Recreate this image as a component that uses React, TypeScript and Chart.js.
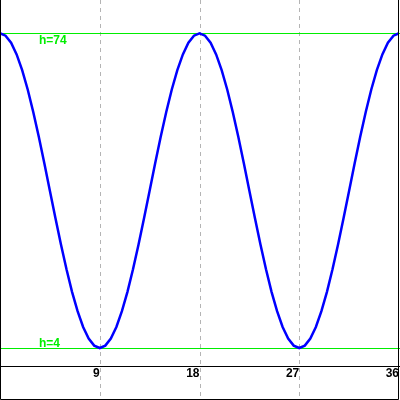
import React, { useEffect, useRef } from "react";
import { Chart, registerables } from "chart.js";

Chart.register(...registerables);

// time (x) values, step 0.5
const tValues: number[] = [
  0, 0.5, 1, 1.5, 2, 2.5, 3, 3.5, 4, 4.5, 5, 5.5, 6, 6.5, 7, 7.5, 8, 8.5, 9,
  9.5, 10, 10.5, 11, 11.5, 12, 12.5, 13, 13.5, 14, 14.5, 15, 15.5, 16, 16.5, 17, 17.5, 18,
  18.5, 19, 19.5, 20, 20.5, 21, 21.5, 22, 22.5, 23, 23.5, 24, 24.5, 25, 25.5, 26, 26.5, 27,
  27.5, 28, 28.5, 29, 29.5, 30, 30.5, 31, 31.5, 32, 32.5, 33, 33.5, 34, 34.5, 35, 35.5, 36,
];

// height values
const hValues: number[] = [
  74, 73.47, 71.89, 69.31, 65.81, 61.5, 56.5, 50.97, 45.08, 39, 32.92, 27.03, 21.5, 16.5, 12.19, 8.69, 6.11, 4.53, 4,
  4.53, 6.11, 8.69, 12.19, 16.5, 21.5, 27.03, 32.92, 39, 45.08, 50.97, 56.5, 61.5, 65.81, 69.31, 71.89, 73.47, 74,
  73.47, 71.89, 69.31, 65.81, 61.5, 56.5, 50.97, 45.08, 39, 32.92, 27.03, 21.5, 16.5, 12.19, 8.69, 6.11, 4.53, 4,
  4.53, 6.11, 8.69, 12.19, 16.5, 21.5, 27.03, 32.92, 39, 45.08, 50.97, 56.5, 61.5, 65.81, 69.31, 71.89, 73.47, 74,
];

const xTicks: number[] = [9, 18, 27, 36];
const refLevels: number[] = [74, 4];
const refLabels: string[] = ["h=74", "h=4"];

const X_MIN = 0;
const X_MAX = 36;
const Y_MIN = 0;
const Y_MAX = 81.4;

export default function App() {
  const canvasRef = useRef<HTMLCanvasElement | null>(null);

  useEffect(() => {
    const canvas = canvasRef.current;
    if (!canvas) return;

    const decorPlugin = {
      id: "decor",
      beforeDatasetsDraw(chart: any) {
        const { ctx } = chart;
        const xs = chart.scales.x;
        const ys = chart.scales.y;
        ctx.save();
        // dashed vertical grid lines through the whole height
        ctx.strokeStyle = "#b4b4b4";
        ctx.lineWidth = 1;
        ctx.setLineDash([4, 4]);
        xTicks.forEach((t) => {
          if (t >= X_MAX) return;
          const px = Math.round(xs.getPixelForValue(t)) + 0.5;
          ctx.beginPath();
          ctx.moveTo(px, 0);
          ctx.lineTo(px, 400);
          ctx.stroke();
        });
        ctx.setLineDash([]);
        // green reference lines
        ctx.strokeStyle = "#00ee00";
        ctx.fillStyle = "#00ee00";
        ctx.lineWidth = 1;
        ctx.font = 'bold 12px "Liberation Sans", Arial, sans-serif';
        ctx.textAlign = "left";
        ctx.textBaseline = "alphabetic";
        refLevels.forEach((lv, i) => {
          const py = Math.round(ys.getPixelForValue(lv)) + 0.5;
          ctx.beginPath();
          ctx.moveTo(0, py);
          ctx.lineTo(400, py);
          ctx.stroke();
          const labelX = 39;
          const labelY = i === 0 ? py + 10 : py - 2;
          ctx.fillText(refLabels[i], labelX, labelY);
        });
        ctx.restore();
      },
      afterDraw(chart: any) {
        const { ctx } = chart;
        ctx.save();
        ctx.strokeStyle = "#000000";
        ctx.lineWidth = 1;
        ctx.beginPath();
        ctx.moveTo(0.5, 0);
        ctx.lineTo(0.5, 399.5);
        ctx.lineTo(398.5, 399.5);
        ctx.lineTo(398.5, 0);
        ctx.stroke();
        ctx.restore();
      },
    };

    const chart = new Chart(canvas, {
      type: "line",
      data: {
        datasets: [
          {
            data: tValues.map((t, i) => ({ x: t, y: hValues[i] })),
            borderColor: "#0000ff",
            borderWidth: 2.5,
            pointRadius: 0,
            tension: 0,
            fill: false,
          },
        ],
      },
      options: {
        animation: false,
        responsive: false,
        maintainAspectRatio: false,
        layout: { padding: { left: 0, right: 1, top: 0, bottom: 0 } },
        plugins: {
          legend: { display: false },
          tooltip: { enabled: false },
          title: { display: false },
        },
        scales: {
          x: {
            type: "linear",
            min: X_MIN,
            max: X_MAX,
            grid: { display: false, drawTicks: false },
            border: { display: true, color: "#000000", width: 1 },
            ticks: {
              stepSize: 9,
              padding: 0,
              align: "end",
              color: "#000000",
              font: { family: '"Liberation Sans", Arial, sans-serif', size: 12, weight: "bold" },
              callback: (v: any) => (xTicks.includes(Number(v)) ? String(v) : ""),
              maxRotation: 0,
              autoSkip: false,
            },
            afterFit: (scale: any) => {
              scale.height = 34;
            },
          },
          y: {
            display: false,
            min: Y_MIN,
            max: Y_MAX,
          },
        },
      },
      plugins: [decorPlugin],
    } as any);

    return () => {
      chart.destroy();
    };
  }, []);

  return (
    <div style={{ position: "absolute", left: 0, top: 0, width: 400, height: 400, background: "#ffffff" }}>
      <canvas ref={canvasRef} width={400} height={400} style={{ width: 400, height: 400, display: "block" }} />
    </div>
  );
}
